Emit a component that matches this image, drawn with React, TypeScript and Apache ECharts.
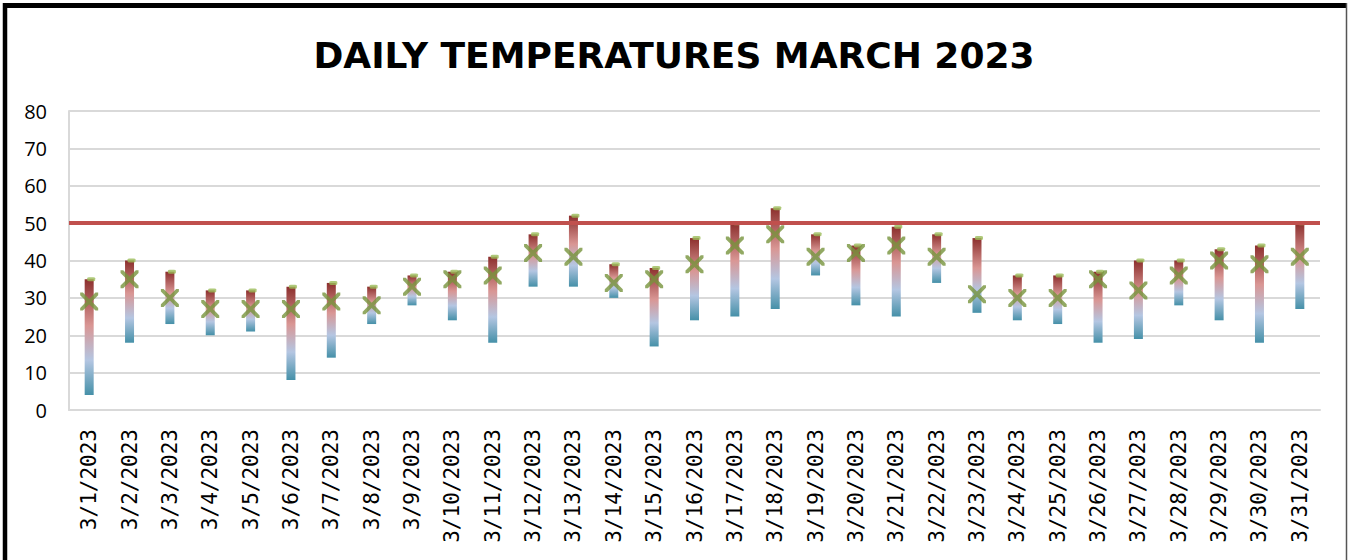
import React, { useEffect, useRef } from "react";
import * as echarts from "echarts";

const categories = [
  "3/1/2023", "3/2/2023", "3/3/2023", "3/4/2023", "3/5/2023", "3/6/2023", "3/7/2023", "3/8/2023",
  "3/9/2023", "3/10/2023", "3/11/2023", "3/12/2023", "3/13/2023", "3/14/2023", "3/15/2023", "3/16/2023",
  "3/17/2023", "3/18/2023", "3/19/2023", "3/20/2023", "3/21/2023", "3/22/2023", "3/23/2023", "3/24/2023",
  "3/25/2023", "3/26/2023", "3/27/2023", "3/28/2023", "3/29/2023", "3/30/2023", "3/31/2023",
];
const highs = [35, 40, 37, 32, 32, 33, 34, 33, 36, 37, 41, 47, 52, 39, 38, 46, 50, 54, 47, 44, 49, 47, 46, 36, 36, 37, 40, 40, 43, 44, 50];
const lows = [4, 18, 23, 20, 21, 8, 14, 23, 28, 24, 18, 33, 33, 30, 17, 24, 25, 27, 36, 28, 25, 34, 26, 24, 23, 18, 19, 28, 24, 18, 27];
const averages = [29, 35, 30, 27, 27, 27, 29, 28, 33, 35, 36, 42, 41, 34, 35, 39, 44, 47, 41, 42, 44, 41, 31, 30, 30, 35, 32, 36, 40, 39, 41];
const threshold = 50;
const yTicks = { min: 0, max: 80, interval: 10 };
const title = "DAILY TEMPERATURES MARCH 2023";

const X_PATH =
  "path://M0,0L3,0L10,7L17,0L20,0L20,3L13,10L20,17L20,20L17,20L10,13L3,20L0,20L0,17L7,10L0,3Z";

export default function App() {
  const ref = useRef<HTMLDivElement>(null);
  useEffect(() => {
    if (!ref.current) return;
    const chart = echarts.init(ref.current, undefined, { renderer: "svg" });
    const ranges = highs.map((h, i) => h - lows[i]);
    const grad = new echarts.graphic.LinearGradient(0, 0, 0, 1, [
      { offset: 0, color: "#8c2f2d" },
      { offset: 0.4, color: "#d99694" },
      { offset: 0.7, color: "#b4c6e2" },
      { offset: 1, color: "#4590a8" },
    ]);
    chart.setOption({
      animation: false,
      backgroundColor: "#ffffff",
      title: {
        text: title,
        left: "center",
        top: 32,
        textStyle: {
          fontFamily: "DejaVu Sans",
          fontWeight: "bold",
          fontSize: 36,
          color: "#000000",
        },
      },
      graphic: [
        { type: "line", shape: { x1: 3, y1: 5.5, x2: 1347, y2: 5.5 }, style: { stroke: "#000", lineWidth: 5 } },
        { type: "line", shape: { x1: 5, y1: 3, x2: 5, y2: 560 }, style: { stroke: "#000", lineWidth: 4.5 } },
        { type: "line", shape: { x1: 1346.5, y1: 3, x2: 1346.5, y2: 560 }, style: { stroke: "#555", lineWidth: 1.5 } },
      ],
      grid: { left: 69, right: 28, top: 111, bottom: 150 },
      xAxis: {
        type: "category",
        data: categories,
        axisLine: { show: true, lineStyle: { color: "#d9d9d9", width: 2 } },
        axisTick: { show: false },
        axisLabel: {
          interval: 0,
          rotate: 90,
          margin: 19,
          color: "#000",
          fontFamily: "DejaVu Sans Mono",
          fontSize: 21,
        },
      },
      yAxis: {
        type: "value",
        min: yTicks.min,
        max: yTicks.max,
        interval: yTicks.interval,
        axisLine: { show: true, lineStyle: { color: "#d9d9d9", width: 2 } },
        axisTick: { show: false },
        splitLine: { lineStyle: { color: "#d9d9d9", width: 2 } },
        axisLabel: { color: "#000", fontFamily: "Open Sans", fontSize: 20, margin: 22 },
      },
      series: [
        {
          type: "bar",
          stack: "r",
          data: lows,
          barWidth: 9,
          itemStyle: { color: "transparent" },
          silent: true,
        },
        {
          type: "bar",
          stack: "r",
          data: ranges,
          barWidth: 9,
          itemStyle: { color: grad },
          markLine: {
            silent: true,
            symbol: "none",
            label: { show: false },
            lineStyle: { color: "#c0504d", width: 4, type: "solid" },
            data: [{ yAxis: threshold }],
            z: 5,
          },
        },
        {
          type: "scatter",
          data: highs,
          symbol: "roundRect",
          symbolSize: [8, 4],
          symbolOffset: [2, 0],
          itemStyle: { color: "#9bbb59" },
          z: 4,
        },
        {
          type: "scatter",
          data: averages,
          symbol: X_PATH,
          symbolSize: 18,
          itemStyle: { color: "#77933c" },
          z: 6,
        },
      ],
    });
    return () => chart.dispose();
  }, []);
  return (
    <div
      ref={ref}
      style={{ position: "fixed", left: 0, top: 0, width: 1348, height: 560 }}
    />
  );
}
